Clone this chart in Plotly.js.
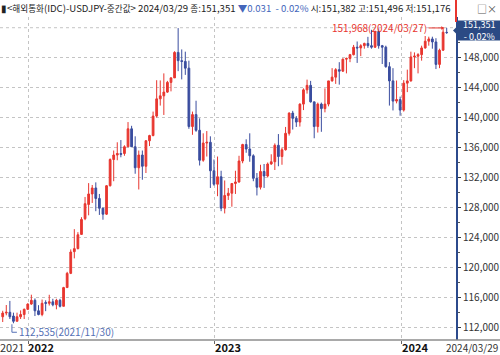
<!DOCTYPE html>
<html>
<head>
<meta charset="utf-8">
<script src="https://cdn.plot.ly/plotly-3.0.1.min.js"></script>
<style>
  html, body { margin: 0; padding: 0; background: #fff; }
  #chart { width: 500px; height: 355px; }
</style>
</head>
<body>
<div id="chart"></div>
<script>
// Weekly candles (week-ending Friday)
const weekEnd = [
  '2021-11-12','2021-11-19','2021-11-26','2021-12-03','2021-12-10','2021-12-17','2021-12-24','2021-12-31',
  '2022-01-07','2022-01-14','2022-01-21','2022-01-28','2022-02-04','2022-02-11','2022-02-18','2022-02-25',
  '2022-03-04','2022-03-11','2022-03-18','2022-03-25','2022-04-01','2022-04-08','2022-04-15','2022-04-22',
  '2022-04-29','2022-05-06','2022-05-13','2022-05-20','2022-05-27','2022-06-03','2022-06-10','2022-06-17',
  '2022-06-24','2022-07-01','2022-07-08','2022-07-15','2022-07-22','2022-07-29','2022-08-05','2022-08-12',
  '2022-08-19','2022-08-26','2022-09-02','2022-09-09','2022-09-16','2022-09-23','2022-09-30','2022-10-07',
  '2022-10-14','2022-10-21','2022-10-28','2022-11-04','2022-11-11','2022-11-18','2022-11-25','2022-12-02',
  '2022-12-09','2022-12-16','2022-12-23','2022-12-30',
  '2023-01-06','2023-01-13','2023-01-20','2023-01-27','2023-02-03','2023-02-10','2023-02-17','2023-02-24',
  '2023-03-03','2023-03-10','2023-03-17','2023-03-24','2023-03-31','2023-04-07','2023-04-14','2023-04-21',
  '2023-04-28','2023-05-05','2023-05-12','2023-05-19','2023-05-26','2023-06-02','2023-06-09','2023-06-16',
  '2023-06-23','2023-06-30','2023-07-07','2023-07-14','2023-07-21','2023-07-28','2023-08-04','2023-08-11',
  '2023-08-18','2023-08-25','2023-09-01','2023-09-08','2023-09-15','2023-09-22','2023-09-29','2023-10-06',
  '2023-10-13','2023-10-20','2023-10-27','2023-11-03','2023-11-10','2023-11-17','2023-11-24','2023-12-01',
  '2023-12-08','2023-12-15','2023-12-22','2023-12-29',
  '2024-01-05','2024-01-12','2024-01-19','2024-01-26','2024-02-02','2024-02-09','2024-02-16','2024-02-23',
  '2024-03-01','2024-03-08','2024-03-15','2024-03-22','2024-03-29'
];
const openP = [
  113.4,113.9,114.0,113.5,112.8,113.4,113.7,114.4,
  115.1,115.6,114.2,113.7,115.3,115.2,115.4,115.0,
  115.6,114.8,117.3,119.2,122.1,122.5,124.4,126.5,
  128.4,129.8,130.6,129.2,127.9,127.1,130.9,134.4,
  135.0,135.2,135.2,136.1,138.5,136.1,133.3,135.0,
  133.5,136.9,137.6,140.2,142.5,142.9,143.4,144.7,
  145.3,148.7,147.6,147.5,146.6,138.8,140.4,138.3,
  134.3,136.6,136.7,132.9,
  131.1,132.1,127.9,129.6,129.9,131.2,131.4,134.2,
  136.4,135.8,134.9,131.9,130.7,132.8,132.2,133.8,
  134.1,136.3,134.8,135.7,137.9,140.6,139.9,139.4,
  141.8,143.7,144.3,142.1,138.8,141.8,141.2,141.8,
  144.9,145.4,146.4,146.2,147.8,147.9,148.4,149.4,
  149.3,149.6,149.9,149.6,149.4,151.5,149.6,149.4,
  146.8,144.9,142.2,142.4,
  141.0,144.6,144.9,148.1,148.2,148.4,149.3,150.2,
  150.5,150.1,147.1,149.0,151.382
];
const highP = [
  114.2,114.97,115.52,113.95,113.95,114.25,114.5,115.2,
  116.35,115.85,114.95,115.7,115.6,116.34,115.8,115.8,
  115.8,117.4,119.4,122.4,125.1,124.7,126.7,129.4,
  131.25,131.0,131.35,129.8,127.95,130.98,134.55,135.6,
  136.7,137.0,136.3,139.4,138.9,137.5,135.6,135.6,
  137.0,137.7,140.8,144.99,144.96,145.9,144.9,145.4,
  148.86,151.95,149.1,148.8,147.6,140.8,142.25,139.9,
  137.9,138.2,137.5,134.4,
  134.8,132.9,131.6,130.6,131.2,132.9,134.9,136.5,
  137.1,137.9,135.1,132.6,133.7,133.8,134.0,135.1,
  136.55,137.8,136.0,138.75,140.7,140.9,140.2,141.9,
  143.9,145.07,144.9,142.1,142.0,142.0,143.9,144.9,
  146.6,146.6,147.4,147.9,148.0,148.5,149.7,150.16,
  149.8,150.0,150.78,151.72,151.6,151.91,149.7,149.6,
  147.4,146.6,144.95,142.8,
  145.0,146.4,148.8,148.7,148.6,149.6,150.89,150.8,
  150.8,150.6,149.2,151.86,151.968
];
const lowP = [
  112.7,113.6,113.1,112.535,112.8,113.1,113.1,114.3,
  115.0,113.5,113.6,113.47,114.15,114.9,114.8,114.4,
  114.65,114.8,117.3,119.1,121.2,122.4,124.4,126.3,
  126.95,128.6,127.5,127.0,126.36,127.0,130.8,131.5,
  134.3,134.7,134.9,136.1,136.5,132.5,130.4,131.7,
  132.6,136.2,137.5,140.0,141.6,140.35,143.3,143.5,
  145.3,146.2,145.1,145.7,138.5,137.7,138.1,133.6,
  134.1,134.8,130.6,130.9,
  129.5,127.5,127.2,129.0,128.1,129.8,131.3,133.9,
  135.3,134.1,131.5,129.6,130.4,130.6,132.0,133.7,
  133.0,133.5,133.7,135.6,137.6,138.4,138.75,138.8,
  141.0,143.2,142.0,137.24,138.0,138.1,140.7,141.5,
  144.8,144.5,144.4,146.1,145.9,147.4,148.3,147.3,
  148.2,149.2,149.3,149.2,149.3,149.2,147.15,146.65,
  141.6,140.95,141.9,140.25,
  140.8,143.4,144.8,146.6,145.9,147.6,149.2,149.6,
  149.2,146.48,146.6,148.9,151.176
];
const closeP = [
  113.9,114.0,113.4,112.8,113.4,113.7,114.4,115.1,
  115.6,114.2,113.7,115.2,115.2,115.4,115.0,115.6,
  114.8,117.3,119.2,122.05,122.5,124.35,126.4,128.5,
  129.8,130.6,129.2,127.9,127.1,130.9,134.4,135.0,
  135.2,135.1,136.1,138.5,136.1,133.3,135.0,133.5,
  136.9,137.6,140.2,142.5,142.9,143.4,144.7,145.3,
  148.7,147.6,147.5,146.6,138.8,140.4,138.3,134.3,
  136.6,136.7,132.9,131.1,
  132.1,127.9,129.6,129.9,131.2,131.4,134.2,136.4,
  135.8,134.9,131.9,130.7,132.8,132.2,133.8,134.1,
  136.3,134.8,135.7,137.9,140.6,139.9,139.4,141.8,
  143.7,144.3,142.1,138.8,141.8,141.2,141.8,144.9,
  145.4,146.4,146.2,147.8,147.9,148.4,149.4,149.3,
  149.6,149.9,149.6,149.4,151.5,149.6,149.4,146.8,
  144.9,142.2,142.4,141.0,
  144.6,144.9,148.1,148.2,148.4,149.3,150.2,150.5,
  150.1,147.1,149.0,151.4,151.351
];

// axis ticks and labels
const priceTicks = [112,116,120,124,128,132,136,140,144,148];
const priceLabels = priceTicks.map(v => v.toFixed(3).replace('.', ','));
const extraGrid = [152];
const yearTicks = ['2022-01-01','2023-01-01','2024-01-01'];
const yearLabels = ['2022','2023','2024'];

// text pieces
const K = s => '<span style="font-size:8.6px">' + s + '</span>';
const headerMain = '▮&lt;' + K('해외통화') + '(IDC)-USDJPY-' + K('중간값') + '&gt; 2024/03/29 ' + K('종') + ':151,351 ';
const headerChange = '▼0.031&nbsp;&nbsp;- 0.02%';
const headerRest = ' ' + K('시') + ':151,382 ' + K('고') + ':151,496 ' + K('저') + ':151,176';
const lastPrice = 151.351;
const lastPriceText = '151,351<br>- 0,02%';
const highDate = '2024-03-27', highValue = 151.968, highText = '151,968(2024/03/27)';
const lowDate = '2021-11-30', lowValue = 112.535, lowText = '112,535(2021/11/30)';
const lastDateText = '2024/03/29';
const firstYearText = '2021';

const RED = '#e8362f', BLUE = '#3a4d9f', BOX = '#2b4a84', FONT = '"Noto Sans CJK KR", "Noto Sans", sans-serif';

const trace = {
  type: 'candlestick',
  x: weekEnd, open: openP, high: highP, low: lowP, close: closeP,
  increasing: { line: { color: RED, width: 1 }, fillcolor: RED },
  decreasing: { line: { color: BLUE, width: 1 }, fillcolor: BLUE },
  whiskerwidth: 0,
  hoverinfo: 'skip'
};

const annotations = [
  { xref: 'paper', yref: 'paper', x: 0, y: 1, xanchor: 'left', yanchor: 'middle', yshift: 9, xshift: -1,
    showarrow: false, align: 'left',
    text: headerMain + '<span style="color:#4466bb">' + headerChange + '</span>' + headerRest,
    font: { family: FONT, size: 9.6, color: '#222' } },
  { xref: 'paper', yref: 'paper', x: 500/456, y: 1, xanchor: 'right', yanchor: 'middle', yshift: 9, xshift: -1,
    showarrow: false, text: '□×', font: { family: FONT, size: 10, color: '#555' } },
  { xref: 'paper', yref: 'y', x: 1, y: lastPrice, xanchor: 'center', yanchor: 'middle', xshift: 23, yshift: 2,
    showarrow: false, text: lastPriceText, align: 'center', borderpad: 0,
    font: { family: FONT, size: 9, color: '#ffffff' } },
  { xref: 'x', yref: 'y', x: highDate, y: highValue, showarrow: true,
    ax: -17, ay: 0, xanchor: 'right', yanchor: 'middle',
    arrowhead: 2, arrowsize: 0.7, arrowwidth: 1, arrowcolor: RED, standoff: 1,
    text: highText, font: { family: FONT, size: 10, color: RED } },
  { xref: 'x', yref: 'y', x: lowDate, y: lowValue, xanchor: 'left', yanchor: 'middle',
    xshift: 5, yshift: -8, showarrow: false,
    text: lowText, font: { family: FONT, size: 10, color: '#5570b5' } },
  { xref: 'paper', yref: 'paper', x: 0, y: 0, xanchor: 'left', yanchor: 'middle', yshift: -7, xshift: -2,
    showarrow: false, text: firstYearText, font: { family: FONT, size: 11, color: '#333' } },
  { xref: 'paper', yref: 'paper', x: 500/456, y: 0, xanchor: 'right', yanchor: 'middle', yshift: -7, xshift: 0,
    showarrow: false, text: lastDateText, font: { family: FONT, size: 10, color: '#333' } }
];
yearTicks.forEach((d, i) => annotations.push({
  xref: 'x', yref: 'paper', x: d, y: 0, xanchor: 'left', yanchor: 'middle', yshift: -7, xshift: -2,
  showarrow: false, text: '<b>' + yearLabels[i] + '</b>', font: { family: FONT, size: 11, color: '#111' }
}));

const shapes = [
  { type: 'line', xref: 'paper', yref: 'paper', x0: 0, x1: 500/456, y0: 0, y1: 0,
    line: { color: '#8c8c8c', width: 1.5 } },
  { type: 'line', xref: 'paper', yref: 'paper', x0: 1, x1: 1, y0: 1 + 17/323, y1: 1 - 5/323,
    line: { color: RED, width: 2 } },
  // last-price box and its pointer
  { type: 'rect', xref: 'paper', xsizemode: 'pixel', xanchor: 1, x0: 2, x1: 44,
    yref: 'y', ysizemode: 'pixel', yanchor: lastPrice, y0: -8, y1: 12,
    fillcolor: BOX, line: { width: 0 } },
  { type: 'path', xref: 'paper', xsizemode: 'pixel', xanchor: 1,
    yref: 'y', ysizemode: 'pixel', yanchor: lastPrice,
    path: 'M-3,2 L3,8 L3,-4 Z', fillcolor: BOX, line: { width: 0 } },
  // L marker for the low
  { type: 'path', xref: 'x', xsizemode: 'pixel', xanchor: lowDate,
    yref: 'y', ysizemode: 'pixel', yanchor: lowValue,
    path: 'M0,-1 L0,-9 L5,-9', line: { color: '#5570b5', width: 1 } }
];
extraGrid.forEach(v => shapes.push({
  type: 'line', xref: 'paper', yref: 'y', x0: 0, x1: 1, y0: v, y1: v, layer: 'below',
  line: { color: '#c4c4c4', width: 1, dash: 'dot' }
}));

const layout = {
  width: 500, height: 355,
  margin: { l: 0, r: 44, t: 17, b: 15 },
  paper_bgcolor: '#ffffff', plot_bgcolor: '#ffffff',
  showlegend: false, hovermode: false,
  font: { family: FONT, size: 10, color: '#333' },
  xaxis: {
    type: 'date',
    range: ['2021-11-06 17:00', '2024-04-16 05:00'],
    rangeslider: { visible: false },
    tickvals: yearTicks, showticklabels: false,
    ticks: 'outside', ticklen: 3, tickcolor: '#666',
    showgrid: true, gridcolor: '#c4c4c4', griddash: 'dot', gridwidth: 1,
    showline: false, zeroline: false, fixedrange: true
  },
  yaxis: {
    side: 'right',
    range: [110.30, 153.43],
    tickvals: priceTicks, ticktext: priceLabels,
    ticks: 'outside', ticklen: 3, tickcolor: '#333',
    minor: { ticks: 'outside', ticklen: 2, dtick: 2, tickcolor: '#555', showgrid: false },
    tickfont: { family: FONT, size: 10, color: '#333' },
    showgrid: true, gridcolor: '#c4c4c4', griddash: 'dot', gridwidth: 1,
    showline: true, linecolor: '#2c4a8c', linewidth: 2,
    zeroline: false, fixedrange: true
  },
  shapes: shapes,
  annotations: annotations
};

Plotly.newPlot('chart', [trace], layout, { displayModeBar: false, staticPlot: true });
</script>
</body>
</html>
